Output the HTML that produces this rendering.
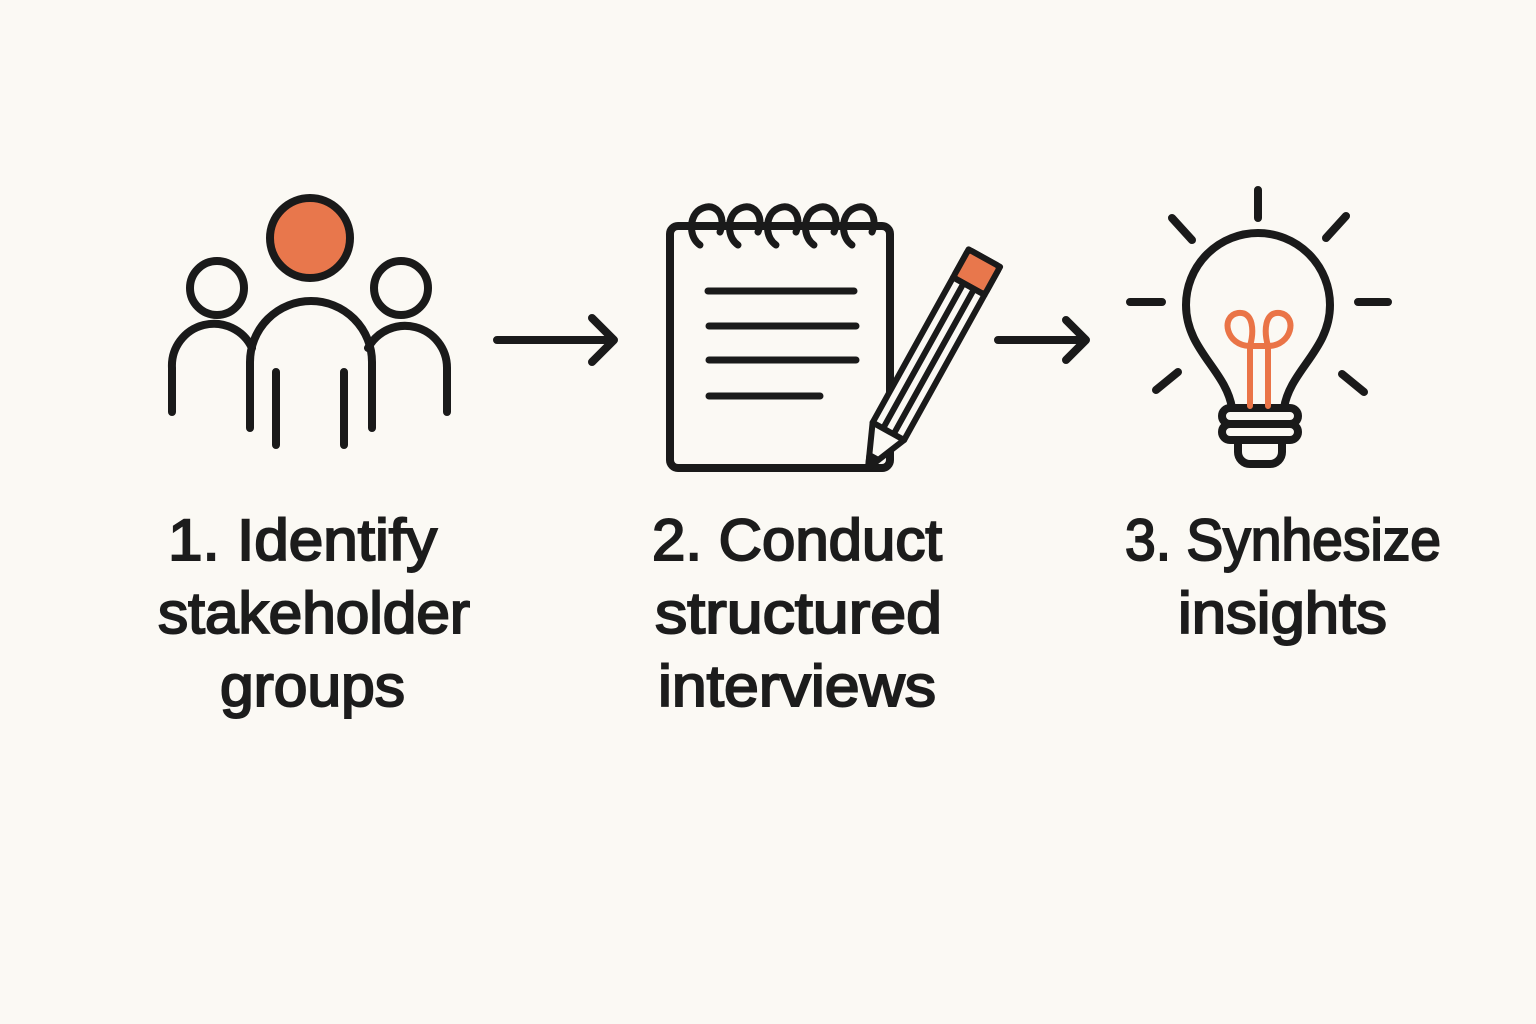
<!DOCTYPE html>
<html><head><meta charset="utf-8"><style>
html,body{margin:0;padding:0;background:#fbf9f4;}
svg{display:block;}
text{font-family:"Liberation Sans",sans-serif;font-size:58px;fill:#1c1c1c;stroke:#1c1c1c;stroke-width:2px;}
</style></head><body>
<svg width="1536" height="1024" viewBox="0 0 1536 1024" xmlns="http://www.w3.org/2000/svg">
<rect width="1536" height="1024" fill="#fbf9f4"/>
<g fill="none" stroke="#1a1a1a" stroke-width="8" stroke-linecap="round" stroke-linejoin="round">
 <!-- people -->
 <circle cx="310" cy="238" r="40" fill="#e8774c"/>
 <circle cx="217" cy="288" r="27"/>
 <circle cx="401" cy="288" r="27"/>
 <path d="M250 428 V362 A61 61 0 0 1 372 362 V428"/>
 <path d="M172 412 V368 A42 42 0 0 1 252 348"/>
 <path d="M447 412 V368 A42 42 0 0 0 368 348"/>
 <path d="M276 372 V445 M344 372 V445"/>
 <!-- arrows -->
 <path d="M497 340 H614 M592 318 L614 340 L592 362"/>
 <path d="M998 340 H1086 M1066 320 L1086 340 L1066 360"/>
 <!-- notepad -->
 <rect x="670" y="226" width="220" height="242" rx="8" fill="#fbf9f4"/>
 <g stroke-width="7">
 <path d="M700 245 C690 238 690 224 694 216 C698 208 708 205 714 208 C722 212 724 222 720 232"/>
 <path d="M738 245 C728 238 728 224 732 216 C736 208 746 205 752 208 C760 212 762 222 758 232"/>
 <path d="M776 245 C766 238 766 224 770 216 C774 208 784 205 790 208 C798 212 800 222 796 232"/>
 <path d="M814 245 C804 238 804 224 808 216 C812 208 822 205 828 208 C836 212 838 222 834 232"/>
 <path d="M852 245 C842 238 842 224 846 216 C850 208 860 205 866 208 C874 212 876 222 872 232"/>
 </g>
 <path d="M708 291 H854 M709 326 H856 M709 360 H856 M709 396 H820" stroke-width="7"/>
 <!-- pencil -->
 <g transform="translate(868,468) rotate(-61)" stroke-width="6">
  <path d="M0 0 L42 -18 H240 V18 H42 Z" fill="#fbf9f4"/>
  <rect x="208" y="-18" width="32" height="36" rx="4" fill="#e8774c"/>
  <path d="M42 -18 V18 M42 -6 H208 M42 6 H208 M208 -18 V18"/>
  <path d="M0 0 L12 -5 V5 Z" fill="#1a1a1a"/>
 </g>
 <!-- bulb -->
 <path d="M1232 408 C1226 370 1186 350 1186 305 A72 72 0 1 1 1330 305 C1330 350 1290 370 1284 408 Z"/>
 <rect x="1222" y="408" width="76" height="16" rx="8"/>
 <rect x="1222" y="424" width="76" height="16" rx="8"/>
 <path d="M1238 442 V452 A12 12 0 0 0 1250 464 H1270 A12 12 0 0 0 1282 452 V442"/>
 <path d="M1250 406 V346 C1226 346 1220 316 1238 313 C1254 311 1254 332 1250 346 H1268 C1264 332 1264 311 1280 313 C1298 316 1292 346 1268 346 V406" stroke="#ea7447" stroke-width="6"/>
 <path d="M1258 190 V218 M1172 218 L1192 240 M1346 216 L1326 238 M1130 302 H1162 M1358 302 H1388 M1156 390 L1178 372 M1342 374 L1364 392"/>
</g>
<text x="168" y="560" textLength="269" lengthAdjust="spacingAndGlyphs">1. Identify</text>
<text x="158" y="633" textLength="312" lengthAdjust="spacingAndGlyphs">stakeholder</text>
<text x="220" y="706" textLength="185" lengthAdjust="spacingAndGlyphs">groups</text>
<text x="652" y="560" textLength="290" lengthAdjust="spacingAndGlyphs">2. Conduct</text>
<text x="655" y="633" textLength="287" lengthAdjust="spacingAndGlyphs">structured</text>
<text x="658" y="706" textLength="278" lengthAdjust="spacingAndGlyphs">interviews</text>
<text x="1125" y="560" textLength="316" lengthAdjust="spacingAndGlyphs">3. Synhesize</text>
<text x="1178" y="633" textLength="209" lengthAdjust="spacingAndGlyphs">insights</text>
</svg>
</body></html>
